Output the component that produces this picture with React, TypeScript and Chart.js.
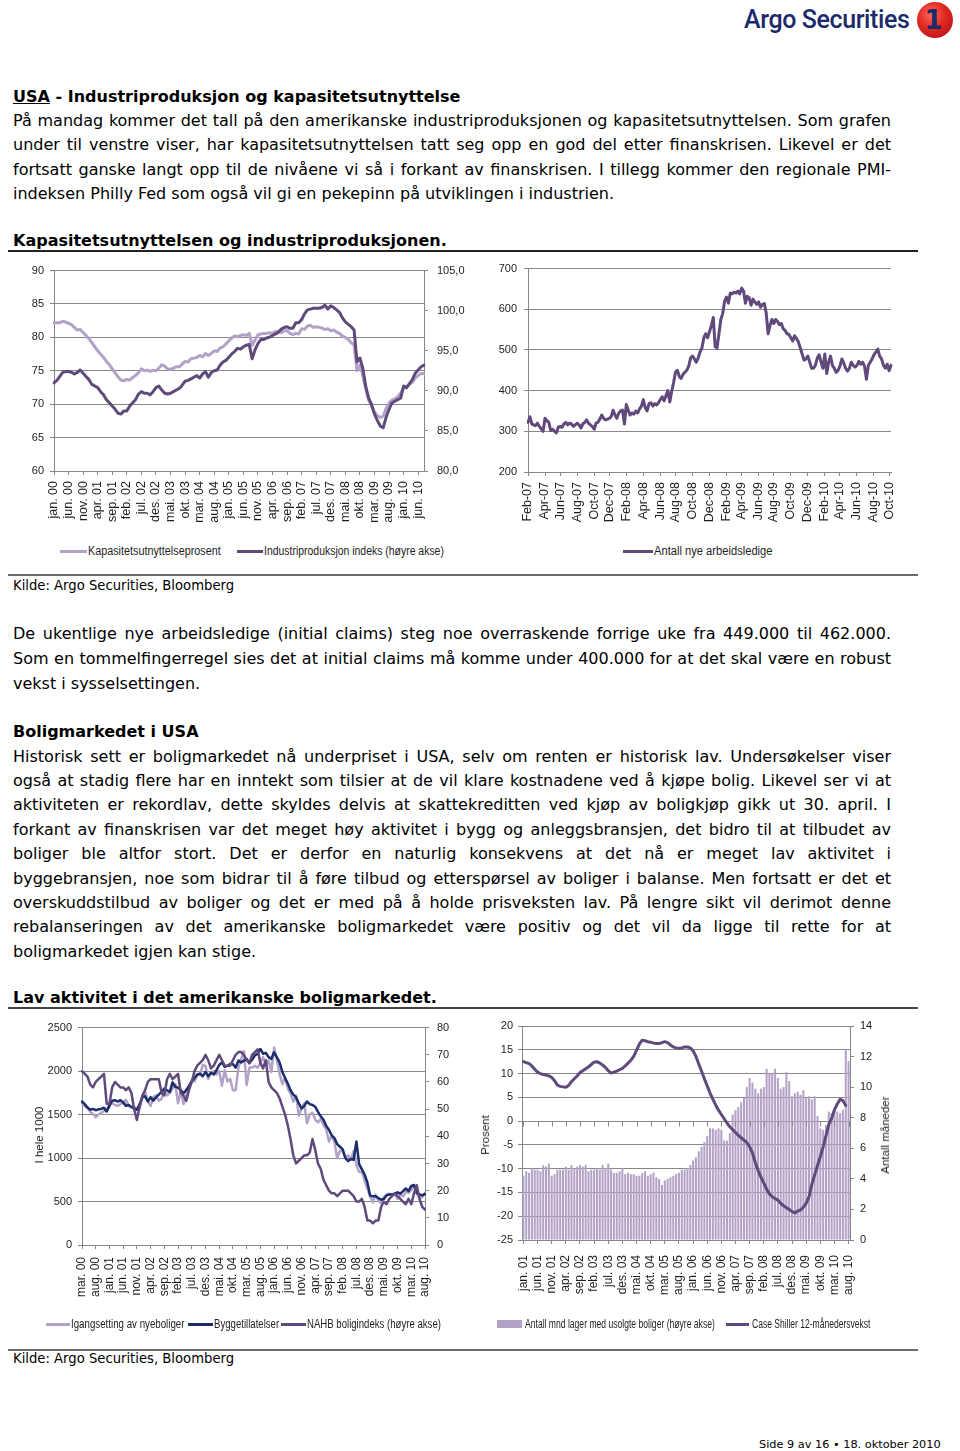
import React, { useEffect, useRef } from 'react';
import { Chart, registerables } from 'chart.js';
Chart.register(...registerables);

// ---------------- DATA ----------------
// Chart 1: monthly, jan 2000 - aug 2010
const capacityUtilization = [
  82.2, 82.2, 82.2, 82.4, 82.3, 82.1, 81.9, 81.5, 81.1, 81.2, 80.7, 80.3,
  79.8, 79.2, 78.6, 78.0, 77.5, 77.0, 76.4, 75.9, 75.3, 74.7, 74.1, 73.6,
  73.5, 73.7, 73.6, 74.0, 74.3, 74.7, 75.3, 75.0, 75.1, 74.9, 75.1, 75.0,
  75.4, 75.9, 75.7, 75.3, 75.2, 75.4, 75.6, 75.6, 76.0, 76.4, 76.3, 76.8,
  76.9, 77.0, 77.3, 77.1, 77.6, 77.3, 77.6, 78.0, 77.9, 78.4, 78.6, 79.0,
  79.5, 79.9, 80.2, 80.1, 80.3, 80.4, 80.3, 80.6, 78.8, 79.6, 80.4, 80.5,
  80.6, 80.6, 80.7, 80.6, 80.9, 80.9, 80.7, 81.0, 81.0, 80.6, 80.4, 80.6,
  80.5, 81.3, 81.2, 81.7, 81.8, 81.5, 81.6, 81.5, 81.4, 81.2, 81.3, 81.0,
  81.1, 80.8, 80.6, 80.2, 80.0, 79.7, 79.2, 78.9, 75.0, 75.9, 74.3, 72.3,
  70.6, 69.7, 68.8, 68.3, 68.0, 68.2, 69.4, 70.2, 70.6, 70.8, 71.1, 71.7,
  72.4, 72.5, 73.0, 73.3, 73.9, 74.3, 74.6, 74.6,
];
const industrialProduction = [
  91.0, 91.3, 91.8, 92.3, 92.4, 92.4, 92.3, 92.1, 92.3, 92.6, 92.2, 91.8,
  91.4, 90.8, 90.6, 90.4, 89.9, 89.5, 88.9, 88.5, 88.1, 87.7, 87.2, 87.1,
  87.5, 87.5, 88.1, 88.5, 88.9, 89.6, 89.9, 89.7, 89.7, 89.5, 89.9, 90.4,
  90.6, 90.1, 89.7, 89.6, 89.7, 89.9, 90.1, 90.3, 90.7, 91.2, 91.3, 91.5,
  91.7, 91.9, 91.6, 92.1, 92.4, 91.7, 92.3, 92.5, 92.6, 93.2, 93.6, 93.8,
  94.2, 94.6, 94.9, 95.3, 95.2, 95.5, 95.7, 95.8, 94.0, 95.1, 95.9, 96.4,
  96.4, 96.6, 96.7, 96.9, 97.1, 97.3, 97.7, 97.9, 98.0, 97.8, 97.8, 98.5,
  98.5, 98.9, 99.6, 100.1, 100.2, 100.3, 100.3, 100.3, 100.4, 100.7, 100.2, 100.6,
  100.4, 100.1, 99.8, 99.1, 98.6, 98.3, 98.0, 97.6, 93.6, 94.1, 92.8, 90.6,
  89.1, 88.3, 87.1, 86.3, 85.6, 85.4, 86.7, 87.7, 88.5, 88.7, 88.9, 89.1,
  90.6, 90.4, 90.9, 91.4, 92.2, 92.6, 93.0, 93.2,
];

// Chart 2: weekly initial claims (1000), week of 3 Feb 2007 - 9 Oct 2010
const initialClaims = [
  322, 336, 318, 316, 314, 320, 312, 306, 300, 332, 326, 322, 302, 305, 300, 296, 310,
  312, 310, 318, 322, 316, 320, 318, 312, 316, 320, 316, 308, 318, 322, 328, 320, 316, 312,
  305, 320, 322, 330, 340, 332, 328, 330, 332, 336, 352, 340, 332,
  345, 350, 352, 318, 366, 352, 340, 345, 342, 350, 345, 355, 362, 378, 358, 350, 368,
  370, 362, 368, 365, 370, 378, 385, 375, 388, 400, 372, 398, 420, 445, 450, 435, 430, 440,
  445, 450, 460, 480, 485, 478, 470, 480, 495, 505, 530, 540, 530, 545, 560, 580, 508,
  505, 540, 575, 590, 620, 630, 615, 640, 638, 642, 640, 645, 638, 652, 645, 615, 632,
  628, 610, 625, 618, 612, 618, 605, 612, 614, 590, 540, 560, 575, 565, 575, 570, 562, 565,
  552, 548, 540, 538, 530, 522, 535, 528, 520, 505, 490, 475, 478, 485, 470, 455, 455,
  462, 480, 488, 470, 455, 490, 442, 470, 485, 462, 455, 445, 450, 460, 478, 468, 455,
  448, 455, 470, 462, 458, 462, 472, 465, 470, 460, 428, 462, 470, 478, 488, 495, 502, 485,
  478, 462, 455, 465, 449, 462,
];

// Chart 3: monthly, mar 2000 - aug 2010 (1000 units; NAHB on right axis)
const housingStarts = [
  1630, 1600, 1580, 1530, 1510, 1470, 1500, 1520, 1540, 1560,
  1620, 1630, 1610, 1600, 1620, 1640, 1670, 1600, 1580, 1590, 1560, 1570,
  1690, 1760, 1650, 1600, 1700, 1720, 1660, 1680, 1800, 1720, 1750, 1800,
  1850, 1630, 1770, 1620, 1730, 1800, 1900, 1880, 1950, 1960, 2070, 2060,
  1910, 1980, 2000, 1960, 2000, 1830, 2010, 1880, 1910, 1780, 1780, 2040,
  2140, 2230, 1840, 2040, 2040, 2060, 2040, 2090, 2160, 2080, 2120, 1990,
  2270, 2130, 1970, 1850, 1920, 1800, 1740, 1650, 1720, 1490, 1570, 1630,
  1400, 1500, 1520, 1440, 1410, 1450, 1380, 1330, 1190, 1260, 1180, 1000,
  1080, 1080, 1000, 1030, 980, 1080, 920, 840, 840, 740, 650, 560,
  490, 580, 510, 480, 550, 580, 590, 580, 590, 530, 580, 560,
  610, 600, 630, 680, 590, 540, 550, 600,
];
const buildingPermits = [
  1650, 1620, 1580, 1555, 1565, 1550, 1560, 1565, 1578, 1535,
  1600, 1660, 1665, 1650, 1665, 1640, 1600, 1610, 1590, 1570, 1555, 1620,
  1700, 1710, 1650, 1700, 1660, 1700, 1730, 1760, 1800, 1780, 1760, 1870,
  1820, 1810, 1780, 1745, 1780, 1830, 1880, 1920, 1960, 1970, 1940, 1990,
  1940, 1980, 1960, 2010, 2070, 2100, 2050, 2060, 2080, 2080, 2040, 2120,
  2100, 2120, 2140, 2090, 2130, 2180, 2200, 2254, 2200, 2210, 2160, 2140,
  2216, 2160, 2100, 1990, 1920, 1856, 1780, 1730, 1700, 1630, 1570, 1600,
  1650, 1620, 1610, 1590, 1530, 1480, 1440, 1370, 1325, 1260, 1230, 1160,
  1130, 1100, 1000, 965, 990, 980, 1190, 930, 870, 810, 720, 568,
  560, 560, 540, 520, 530, 570, 580, 580, 590, 606, 590, 620,
  650, 620, 680, 690, 600, 580, 570, 587,
];
const nahbIndex = [
  64, 63, 62, 59, 58, 60, 61, 62, 63, 52,
  52, 58, 60, 59, 58, 58, 57, 58, 56, 50, 46, 51,
  55, 57, 60, 61, 61, 61, 61, 56, 55, 61, 63, 61,
  62, 63, 56, 55, 53, 57, 60, 64, 66, 67, 68, 70,
  68, 65, 66, 68, 70, 68, 66, 66, 66, 68, 70, 71,
  71, 70, 68, 67, 70, 71, 72, 67, 65, 68, 60, 58,
  57, 56, 54, 51, 48, 44, 39, 33, 30, 31, 32, 33,
  33, 34, 39, 35, 30, 28, 24, 22, 20, 19, 19, 18,
  19, 20, 20, 20, 19, 18, 16, 16, 17, 14, 9, 9,
  8, 9, 9, 14, 16, 15, 17, 18, 19, 18, 17, 16,
  15, 17, 15, 19, 22, 17, 14, 13,
];

// Chart 4: monthly, jan 2001 - aug 2010
const monthsSupply = [
  4.2, 4.5, 4.4, 4.7, 4.6, 4.6, 4.5, 4.9, 4.8, 5.0, 4.2, 4.3,
  4.6, 4.6, 4.6, 4.8, 4.6, 4.9, 4.7, 4.8, 4.9, 4.8, 4.9, 4.5,
  4.6, 4.6, 4.7, 4.6, 4.9, 4.7, 5.0, 4.6, 4.4, 4.4, 4.5, 4.7,
  4.3, 4.4, 4.3, 4.3, 4.2, 4.2, 4.4, 4.5, 4.2, 4.3, 4.4, 4.1,
  4.0, 3.6, 3.9, 4.0, 4.1, 4.2, 4.3, 4.4, 4.6, 4.6, 4.7, 4.9,
  5.2, 5.4, 5.8, 6.1, 6.4, 6.8, 7.3, 7.3, 7.2, 7.3, 7.2, 6.5,
  6.5, 7.0, 8.2, 8.5, 8.7, 9.0, 9.3, 10.0, 10.6, 10.3, 9.9, 9.6,
  9.9, 10.0, 11.2, 10.9, 10.9, 11.2, 10.6, 9.9, 10.0, 11.0, 10.4, 9.4,
  9.6, 9.7, 9.5, 9.8, 9.3, 9.4, 9.2, 9.4, 8.1, 7.3, 7.2, 7.5,
  8.4, 8.3, 8.5, 8.4, 8.3, 8.5, 12.5, 11.7,
];
const caseShiller = [
  12.5, 12.3, 12.1, 11.6, 10.9, 10.3, 10.0, 9.8, 9.7, 9.5, 9.2, 8.5,
  7.6, 7.3, 7.2, 7.1, 7.5, 8.3, 8.9, 9.5, 10.2, 10.6, 11.0, 11.4,
  11.9, 12.4, 12.5, 12.2, 11.8, 11.3, 10.6, 10.1, 10.3, 10.5, 10.8, 11.1,
  11.6, 12.2, 12.8, 13.6, 14.9, 16.2, 17.0, 16.9, 16.7, 16.6, 16.4, 16.3,
  16.3, 16.5, 16.7, 16.5, 16.0, 15.6, 15.4, 15.3, 15.4, 15.6, 15.6, 15.4,
  14.8, 13.6, 12.0, 10.5, 8.9, 7.4, 5.9, 4.6, 3.4, 2.3, 1.4, 0.5,
  -0.4, -1.2, -1.8, -2.4, -3.0, -3.5, -4.0, -4.5, -5.4, -6.7, -8.7, -10.4,
  -11.8, -13.0, -14.3, -15.3, -15.9, -16.3, -16.6, -17.3, -17.8, -18.2, -18.6, -19.0,
  -19.3, -18.9, -18.7, -18.1, -17.3, -15.9, -13.3, -11.3, -9.4, -7.5, -5.4, -3.1,
  -0.7, 0.6, 2.4, 3.6, 4.6, 4.3, 3.3, null,
];

const NO_MONTHS = ['jan', 'feb', 'mar', 'apr', 'mai', 'jun', 'jul', 'aug', 'sep', 'okt', 'nov', 'des'];
const EN_MONTHS = ['Jan', 'Feb', 'Mar', 'Apr', 'May', 'Jun', 'Jul', 'Aug', 'Sep', 'Oct', 'Nov', 'Dec'];

function monthLabels(year: number, month: number, n: number): string[] {
  const out: string[] = [];
  for (let i = 0; i < n; i++) {
    const m = (month + i) % 12;
    const y = year + Math.floor((month + i) / 12);
    out.push(`${NO_MONTHS[m]}. ${String(y % 100).padStart(2, '0')}`);
  }
  return out;
}

const c1Labels = monthLabels(2000, 0, capacityUtilization.length);
const c3Labels = monthLabels(2000, 2, buildingPermits.length);
const c4Labels = monthLabels(2001, 0, monthsSupply.length);

const weekDates: { m: number; y: number; key: string }[] = [];
for (let i = 0; i < initialClaims.length; i++) {
  const d = new Date(Date.UTC(2007, 1, 3) + i * 7 * 86400000);
  weekDates.push({ m: d.getUTCMonth(), y: d.getUTCFullYear(), key: d.toISOString().slice(0, 10) });
}
const c2Labels = weekDates.map((w) => w.key);
const c2Shown = weekDates.map((w, i) =>
  w.m % 2 === 1 && (i === 0 || weekDates[i - 1].m !== w.m) ? `${EN_MONTHS[w.m]}-${String(w.y % 100).padStart(2, '0')}` : null
);

// ---------------- STYLE ----------------
const FONT = "'Liberation Sans', Arial, Helvetica, sans-serif";
const TEXTFONT = "'DejaVu Sans', Verdana, sans-serif";
const GRID = '#878787';
const TXT = '#1e1e1e';
const LIGHT = '#b3a2c7';
const DARK = '#5f4a7b';
const NAVY = '#1c2d6c';

function xAxis(shown: (string | null)[], height: number, offset: boolean, size: number, padding: number) {
  return {
    type: 'category',
    offset,
    grid: { drawOnChartArea: false, color: GRID, tickColor: GRID, tickLength: 4, offset: false },
    border: { color: GRID, width: 1 },
    ticks: {
      autoSkip: false,
      maxRotation: 90,
      minRotation: 90,
      padding,
      color: TXT,
      font: { family: FONT, size },
      callback: (_v: any, i: number) => shown[i] ?? null,
    },
    afterFit: (s: any) => { s.height = height; },
  };
}

function yAxis(opts: {
  position: 'left' | 'right'; min: number; max: number; step: number; width: number; padding: number;
  grid: boolean; fmt?: (v: number) => string;
}) {
  return {
    position: opts.position,
    min: opts.min,
    max: opts.max,
    grid: { drawOnChartArea: opts.grid, color: GRID, tickColor: GRID, tickLength: 4 },
    border: { color: GRID, width: 1 },
    ticks: {
      stepSize: opts.step,
      padding: opts.padding,
      color: TXT,
      font: { family: FONT, size: 11 },
      callback: (v: any) => (opts.fmt ? opts.fmt(Number(v)) : String(v)),
    },
    afterFit: (s: any) => { s.width = opts.width; },
  };
}

const baseOptions = (top: number, right = 0) => ({
  animation: false,
  responsive: false,
  maintainAspectRatio: false,
  layout: { padding: { top, right, left: 0, bottom: 0 } },
  plugins: { legend: { display: false }, tooltip: { enabled: false } },
});

function lineDs(label: string, data: any[], color: string, yAxisID: string, order: number, width = 3) {
  return {
    type: 'line', label, data, borderColor: color, backgroundColor: color, borderWidth: width,
    pointRadius: 0, tension: 0, borderJoinStyle: 'round', borderCapStyle: 'round', yAxisID, order, fill: false,
  };
}

const zeroTicks = {
  id: 'zeroTicks',
  afterDatasetsDraw(chart: any) {
    const x = chart.scales.x;
    const y = chart.scales.y;
    const py = Math.round(y.getPixelForValue(0)) + 0.5;
    const ctx = chart.ctx;
    ctx.save();
    ctx.strokeStyle = GRID;
    ctx.lineWidth = 1;
    ctx.beginPath();
    c4Labels.forEach((_l, i) => {
      if (i % 5 !== 0) return;
      const px = Math.round(x.getPixelForValue(i)) + 0.5;
      ctx.moveTo(px, py);
      ctx.lineTo(px, py + 5);
    });
    ctx.stroke();
    ctx.restore();
  },
};

const chart1Config = () => ({
  type: 'line',
  data: {
    labels: c1Labels,
    datasets: [
      lineDs('Kapasitetsutnyttelseprosent', capacityUtilization, LIGHT, 'y', 1),
      lineDs('Industriproduksjon indeks (høyre akse)', industrialProduction, DARK, 'y1', 0),
    ],
  },
  options: {
    ...baseOptions(12),
    scales: {
      x: xAxis(c1Labels.map((l, i) => (i % 5 === 0 ? l : null)), 69, false, 12.5, 6),
      y: yAxis({ position: 'left', min: 60, max: 90, step: 5, width: 54, padding: 6, grid: true }),
      y1: yAxis({ position: 'right', min: 80, max: 105, step: 5, width: 56, padding: 9, grid: false, fmt: (v) => v.toFixed(1).replace('.', ',') }),
    },
  },
});

const chart2Config = () => ({
  type: 'line',
  data: {
    labels: c2Labels,
    datasets: [lineDs('Antall nye arbeidsledige', initialClaims, DARK, 'y', 0)],
  },
  options: {
    ...baseOptions(12, 59),
    scales: {
      x: xAxis(c2Shown, 68, false, 12.5, 6),
      y: yAxis({ position: 'left', min: 200, max: 700, step: 100, width: 48, padding: 7, grid: true }),
    },
  },
});

const chart3Config = () => ({
  type: 'line',
  data: {
    labels: c3Labels,
    datasets: [
      lineDs('Igangsetting av nyeboliger', housingStarts, LIGHT, 'y', 2, 2.5),
      lineDs('Byggetillatelser', buildingPermits, NAVY, 'y', 1, 2.5),
      lineDs('NAHB boligindeks (høyre akse)', nahbIndex, DARK, 'y1', 0, 2.5),
    ],
  },
  options: {
    ...baseOptions(12),
    scales: {
      x: xAxis(c3Labels.map((l, i) => (i % 5 === 0 ? l : null)), 73, false, 12, 8),
      y: yAxis({ position: 'left', min: 0, max: 2500, step: 500, width: 82, padding: 6, grid: true }),
      y1: yAxis({ position: 'right', min: 0, max: 80, step: 10, width: 55, padding: 8, grid: false }),
    },
  },
});

const chart4Config = () => ({
  type: 'bar',
  data: {
    labels: c4Labels,
    datasets: [
      {
        type: 'bar', label: 'Antall mnd lager med usolgte boliger (høyre akse)', data: monthsSupply,
        backgroundColor: LIGHT, borderWidth: 0, yAxisID: 'y1', order: 1, barPercentage: 0.72, categoryPercentage: 1,
      },
      lineDs('Case Shiller 12-månedersvekst', caseShiller, DARK, 'y', 0, 3),
    ],
  },
  options: {
    ...baseOptions(13),
    scales: {
      x: xAxis(c4Labels.map((l, i) => (i % 5 === 0 ? l : null)), 78, true, 12, 11),
      y: yAxis({ position: 'left', min: -25, max: 20, step: 5, width: 42, padding: 5, grid: true }),
      y1: yAxis({ position: 'right', min: 0, max: 14, step: 2, width: 100, padding: 6, grid: false }),
    },
  },
  plugins: [zeroTicks],
});

// ---------------- COMPONENTS ----------------
function ChartBox({ left, top, width, height, config }: { left: number; top: number; width: number; height: number; config: () => any }) {
  const ref = useRef<HTMLCanvasElement>(null);
  useEffect(() => {
    const chart = new Chart(ref.current as HTMLCanvasElement, config() as any);
    return () => chart.destroy();
  }, []);
  return (
    <canvas ref={ref} width={width} height={height}
      style={{ position: 'absolute', left, top, width, height }} />
  );
}

function TextLine({ y, children, justify = false, bold = false, size = 16 }: any) {
  return (
    <div style={{
      position: 'absolute', left: 13, top: y - 12, width: 878, height: 24, lineHeight: '24px',
      fontFamily: TEXTFONT, fontSize: size, fontWeight: bold ? 'bold' : 'normal', color: '#000',
      textAlign: justify ? 'justify' : 'left', textAlignLast: justify ? 'justify' : 'left', whiteSpace: 'nowrap',
    } as any}>{children}</div>
  );
}

function HRule({ y, color = '#3a3a3a', h = 2 }: { y: number; color?: string; h?: number }) {
  return <div style={{ position: 'absolute', left: 8, top: y - h / 2, width: 910, height: h, background: color }} />;
}

function LegendSwatch({ x, y, w, color, h = 3 }: any) {
  return <div style={{ position: 'absolute', left: x, top: y - h / 2, width: w, height: h, background: color }} />;
}
function LegendText({ x, y, text, scale = 0.88 }: any) {
  return (
    <div style={{
      position: 'absolute', left: x, top: y - 8, height: 16, lineHeight: '16px', fontFamily: FONT, fontSize: 12,
      color: TXT, whiteSpace: 'nowrap', transform: `scaleX(${scale})`, transformOrigin: 'left center',
    }}>{text}</div>
  );
}
function AxisTitle({ x, y, text }: any) {
  return (
    <div style={{
      position: 'absolute', left: x, top: y, transform: 'translate(-50%, -50%) rotate(-90deg)',
      fontFamily: FONT, fontSize: 11.5, color: TXT, whiteSpace: 'nowrap', lineHeight: '14px',
    }}>{text}</div>
  );
}

const para1 = [
  'På mandag kommer det tall på den amerikanske industriproduksjonen og kapasitetsutnyttelsen. Som grafen',
  'under til venstre viser, har kapasitetsutnyttelsen tatt seg opp en god del etter finanskrisen. Likevel er det',
  'fortsatt ganske langt opp til de nivåene vi så i forkant av finanskrisen. I tillegg kommer den regionale PMI-',
  'indeksen Philly Fed som også vil gi en pekepinn på utviklingen i industrien.',
];
const para1Y = [121, 145, 170, 194];
const para2 = [
  'De ukentlige nye arbeidsledige (initial claims) steg noe overraskende forrige uke fra 449.000 til 462.000.',
  'Som en tommelfingerregel sies det at initial claims må komme under 400.000 for at det skal være en robust',
  'vekst i sysselsettingen.',
];
const para2Y = [634, 659, 684];
const para3 = [
  'Historisk sett er boligmarkedet nå underpriset i USA, selv om renten er historisk lav. Undersøkelser viser',
  'også at stadig flere har en inntekt som tilsier at de vil klare kostnadene ved å kjøpe bolig. Likevel ser vi at',
  'aktiviteten er rekordlav, dette skyldes delvis at skattekreditten ved kjøp av boligkjøp gikk ut 30. april. I',
  'forkant av finanskrisen var det meget høy aktivitet i bygg og anleggsbransjen, det bidro til at tilbudet av',
  'boliger ble altfor stort. Det er derfor en naturlig konsekvens at det nå er meget lav aktivitet i',
  'byggebransjen, noe som bidrar til å føre tilbud og etterspørsel av boliger i balanse. Men fortsatt er det et',
  'overskuddstilbud av boliger og det er med på å holde prisveksten lav. På lengre sikt vil derimot denne',
  'rebalanseringen av det amerikanske boligmarkedet være positiv og det vil da ligge til rette for at',
  'boligmarkedet igjen kan stige.',
];
const para3Y = [757, 781, 805, 830, 854, 879, 903, 927, 952];

function Logo() {
  return (
    <>
      <div style={{
        position: 'absolute', left: 744, top: 3, fontFamily: "Roboto, 'Open Sans', sans-serif", fontWeight: 500,
        fontSize: 25, letterSpacing: -0.4, color: '#1b2a6b', lineHeight: '34px', whiteSpace: 'nowrap',
      }}>Argo Securities</div>
      <div style={{
        position: 'absolute', left: 917, top: 2, width: 36, height: 36, borderRadius: '50%',
        background: 'radial-gradient(circle at 40% 35%, #ff6a5a 0%, #e0261f 45%, #a8101a 100%)',
      }} />
      <div style={{
        position: 'absolute', left: 917, top: 2, width: 33, height: 36, textAlign: 'center', lineHeight: '36px',
        fontFamily: "'DejaVu Sans', sans-serif", fontWeight: 'bold', fontSize: 26, color: '#1b2a6b',
      }}>1</div>
    </>
  );
}

export default function App() {
  return (
    <div style={{ position: 'absolute', left: 0, top: 0, width: 960, height: 1451, background: '#fff', overflow: 'hidden' }}>
      <Logo />

      <TextLine y={97} bold><span style={{ textDecoration: 'underline' }}>USA</span> - Industriproduksjon og kapasitetsutnyttelse</TextLine>
      {para1.map((t, i) => <TextLine key={'p1' + i} y={para1Y[i]} justify={i < para1.length - 1}>{t}</TextLine>)}

      <TextLine y={241} bold>Kapasitetsutnyttelsen og industriproduksjonen.</TextLine>
      <HRule y={251} color="#222" />

      <ChartBox left={0} top={255} width={480} height={285} config={chart1Config} />
      <ChartBox left={480} top={255} width={470} height={285} config={chart2Config} />

      <LegendSwatch x={60} y={551} w={27} color={LIGHT} />
      <LegendText x={88} y={551} text="Kapasitetsutnyttelseprosent" scale={0.9} />
      <LegendSwatch x={237} y={551} w={26} color={DARK} />
      <LegendText x={264} y={551} text="Industriproduksjon indeks (høyre akse)" scale={0.87} />
      <LegendSwatch x={623} y={551} w={30} color={DARK} />
      <LegendText x={654} y={551} text="Antall nye arbeidsledige" scale={0.93} />

      <HRule y={575} color="#6b6b6b" />
      <TextLine y={586} size={13.2}>Kilde: Argo Securities, Bloomberg</TextLine>

      {para2.map((t, i) => <TextLine key={'p2' + i} y={para2Y[i]} justify={i < para2.length - 1}>{t}</TextLine>)}

      <TextLine y={732} bold>Boligmarkedet i USA</TextLine>
      {para3.map((t, i) => <TextLine key={'p3' + i} y={para3Y[i]} justify={i < para3.length - 1}>{t}</TextLine>)}

      <TextLine y={998} bold>Lav aktivitet i det amerikanske boligmarkedet.</TextLine>
      <HRule y={1008} color="#444" />

      <ChartBox left={0} top={1013} width={480} height={305} config={chart3Config} />
      <ChartBox left={480} top={1013} width={470} height={305} config={chart4Config} />

      <AxisTitle x={39} y={1135} text="I hele 1000" />
      <AxisTitle x={485} y={1135} text="Prosent" />
      <AxisTitle x={885} y={1135} text="Antall måneder" />

      <LegendSwatch x={46} y={1324} w={24} color={LIGHT} />
      <LegendText x={71} y={1324} text="Igangsetting av nyeboliger" scale={0.81} />
      <LegendSwatch x={188} y={1324} w={25} color={NAVY} />
      <LegendText x={214} y={1324} text="Byggetillatelser" scale={0.8} />
      <LegendSwatch x={281} y={1324} w={25} color={DARK} />
      <LegendText x={307} y={1324} text="NAHB boligindeks (høyre akse)" scale={0.8} />

      <LegendSwatch x={497} y={1324} w={25} h={8} color={LIGHT} />
      <LegendText x={525} y={1324} text="Antall mnd lager med usolgte boliger (høyre akse)" scale={0.715} />
      <LegendSwatch x={726} y={1324} w={23} color={DARK} />
      <LegendText x={752} y={1324} text="Case Shiller 12-månedersvekst" scale={0.71} />

      <HRule y={1350} color="#6b6b6b" />
      <TextLine y={1359} size={13.2}>Kilde: Argo Securities, Bloomberg</TextLine>

      <div style={{
        position: 'absolute', left: 759, top: 1437, fontFamily: TEXTFONT, fontSize: 11.3, color: '#000',
        whiteSpace: 'nowrap', lineHeight: '16px',
      }}>Side 9 av 16 • 18. oktober 2010</div>
    </div>
  );
}
